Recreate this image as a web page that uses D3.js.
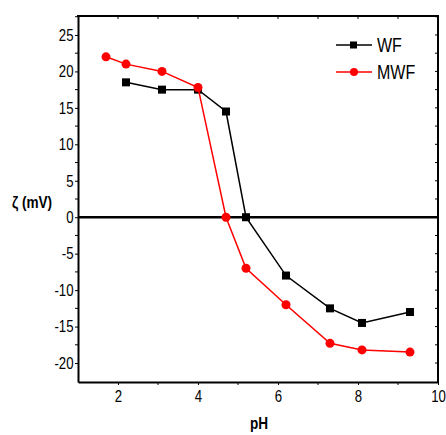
<!DOCTYPE html>
<html>
<head>
<meta charset="UTF-8">
<script src="https://d3js.org/d3.v7.min.js"></script>
<style>
    body { margin: 0; background: #fff; }
    svg { display: block; }
    text { font-family: "Liberation Sans", Arial, sans-serif; }
</style>
</head>
<body>
<svg width="446" height="435"></svg>
<script>
// данные
const phWF  = [2.2, 3.1, 4.0, 4.7, 5.2, 6.2, 7.3, 8.1, 9.3];
const zetaWF = [18.5, 17.5, 17.5, 14.5, 0, -8, -12.5, -14.5, -13];
const phMWF = [1.7, 2.2, 3.1, 4.0, 4.7, 5.2, 6.2, 7.3, 8.1, 9.3];
const zetaMWF = [22, 21, 20, 17.8, 0, -7, -12, -17.3, -18.2, -18.5];
const xTicks = [2, 4, 6, 8, 10];
const yTicks = [-20, -15, -10, -5, 0, 5, 10, 15, 20, 25];

const series = [
    {name: "WF", color: "#000", shape: "square", pts: phWF.map((x, i) => [x, zetaWF[i]])},
    {name: "MWF", color: "#ff0000", shape: "circle", pts: phMWF.map((x, i) => [x, zetaMWF[i]])}
];

const svg = d3.select("svg");
const pL = 78, pR = 438, pT = 16, pB = 382;
const sx = 0.8; // сжатие шрифта по горизонтали (узкий шрифт)

const x = d3.scaleLinear().domain([1, 10]).range([pL, pR]);
const y = d3.scaleLinear().domain([-22.6, 27.6]).range([pB, pT]);

// узкий текст
function narrowText(px, py, str, size, bold, anchor) {
    return svg.append("text")
        .attr("transform", `translate(${px},${py}) scale(${sx},1)`)
        .attr("text-anchor", anchor || "start")
        .attr("font-size", size)
        .attr("font-weight", bold ? "bold" : "normal")
        .text(str);
}

// оси
const fs = 16.5;
const gx = svg.append("g").attr("transform", `translate(0,${pB})`)
    .call(d3.axisBottom(x).tickValues(xTicks).tickFormat(d => String(d)).tickSize(3).tickSizeOuter(0));
const gy = svg.append("g").attr("transform", `translate(${pL},0)`)
    .call(d3.axisLeft(y).tickValues(yTicks).tickFormat(d => String(d)).tickSize(3).tickSizeOuter(0));
[gx, gy].forEach(g => {
    g.attr("font-family", null);
    g.select(".domain").attr("stroke-width", 2);
    g.selectAll("text").attr("font-size", fs).attr("fill", "#000")
        .attr("transform", `scale(${sx},1)`);
});
gx.selectAll("text").attr("y", 8);
gy.selectAll("text").attr("x", -4.5 / sx);

// малые деления
const xMinor = [3, 5, 7, 9];
const yMinor = d3.range(-20, 27.6, 2.5).filter(v => v % 5 !== 0);
svg.append("g").selectAll("line").data(xMinor).join("line")
    .attr("x1", d => x(d)).attr("x2", d => x(d)).attr("y1", pB).attr("y2", pB + 3).attr("stroke", "#000");
svg.append("g").selectAll("line").data(yMinor).join("line")
    .attr("x1", pL).attr("x2", pL - 3).attr("y1", d => y(d)).attr("y2", d => y(d)).attr("stroke", "#000");

// верхняя и правая оси
svg.append("line").attr("x1", pL - 1).attr("x2", pR + 1).attr("y1", pT).attr("y2", pT).attr("stroke", "#000").attr("stroke-width", 2);
svg.append("line").attr("x1", pR).attr("x2", pR).attr("y1", pT).attr("y2", pB + 1).attr("stroke", "#000").attr("stroke-width", 2);
svg.append("g").selectAll("line").data(xTicks.concat(xMinor)).join("line")
    .attr("x1", d => x(d)).attr("x2", d => x(d)).attr("y1", pT).attr("y2", pT + 3).attr("stroke", "#000");
svg.append("g").selectAll("line").data(yTicks.concat(yMinor)).join("line")
    .attr("x1", pR).attr("x2", pR - 3).attr("y1", d => y(d)).attr("y2", d => y(d)).attr("stroke", "#000");

// линия нуля
svg.append("line").attr("x1", pL).attr("x2", pR).attr("y1", y(0)).attr("y2", y(0))
    .attr("stroke", "#000").attr("stroke-width", 2.5);

// серии
const line = d3.line().x(d => x(d[0])).y(d => y(d[1]));
series.forEach(s => {
    svg.append("path").datum(s.pts).attr("d", line)
        .attr("fill", "none").attr("stroke", s.color).attr("stroke-width", 1.5);
    if (s.shape === "square") {
        svg.append("g").selectAll("rect").data(s.pts).join("rect")
            .attr("x", d => x(d[0]) - 4).attr("y", d => y(d[1]) - 4)
            .attr("width", 8).attr("height", 8).attr("fill", s.color);
    } else {
        svg.append("g").selectAll("circle").data(s.pts).join("circle")
            .attr("cx", d => x(d[0])).attr("cy", d => y(d[1])).attr("r", 4.5).attr("fill", s.color);
    }
});

// легенда
series.forEach((s, i) => {
    const ly = 45 + i * 27;
    svg.append("line").attr("x1", 336).attr("x2", 372).attr("y1", ly).attr("y2", ly)
        .attr("stroke", s.color).attr("stroke-width", 1.5);
    if (s.shape === "square") svg.append("rect").attr("x", 350).attr("y", ly - 3.5).attr("width", 7).attr("height", 7).attr("fill", s.color);
    else svg.append("circle").attr("cx", 354).attr("cy", ly).attr("r", 4).attr("fill", s.color);
    narrowText(377, ly + 6.5, s.name, 20, false);
});

// подписи осей
narrowText(259, 429, "pH", 17, true, "middle");
narrowText(32, 208, "ζ (mV)", 17, true, "middle");
</script>
</body>
</html>
